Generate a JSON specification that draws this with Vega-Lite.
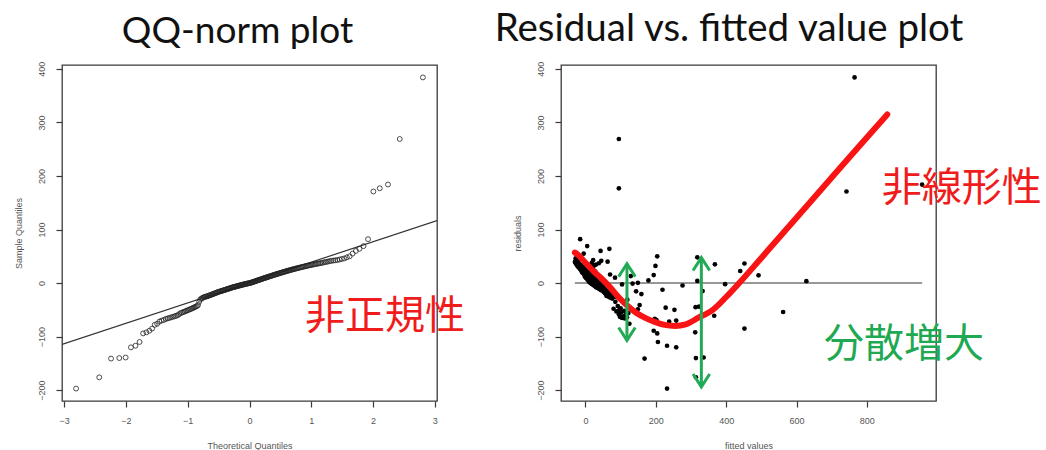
{
 "$schema": "https://vega.github.io/schema/vega-lite/v6.json",
 "background": "white",
 "padding": {"left": 13, "top": 9, "right": 0, "bottom": 0},
 "spacing": 124,
 "bounds": "flush",
 "datasets": {
  "res": [
   {"tq":-2.807,"r":-197,"f":232},{"tq":-2.432,"r":-176,"f":314},{"tq":-2.241,"r":-141,"f":168},{"tq":-2.108,"r":-140,"f":314},{"tq":-2.005,"r":-139,"f":336},
   {"tq":-1.919,"r":-120,"f":258},{"tq":-1.846,"r":-117,"f":232},{"tq":-1.78,"r":-110,"f":206},{"tq":-1.722,"r":-94,"f":204},{"tq":-1.669,"r":-92,"f":312},
   {"tq":-1.621,"r":-89,"f":194},{"tq":-1.576,"r":-85,"f":452},{"tq":-1.534,"r":-78,"f":278},{"tq":-1.495,"r":-76,"f":125},{"tq":-1.458,"r":-72,"f":238},
   {"tq":-1.422,"r":-70,"f":258},{"tq":-1.388,"r":-69,"f":202},{"tq":-1.356,"r":-67,"f":197},{"tq":-1.325,"r":-66,"f":112},{"tq":-1.296,"r":-65,"f":104},
   {"tq":-1.267,"r":-64,"f":118},{"tq":-1.24,"r":-63,"f":98},{"tq":-1.213,"r":-62,"f":108},{"tq":-1.187,"r":-61,"f":366},{"tq":-1.162,"r":-60,"f":115},
   {"tq":-1.138,"r":-58,"f":95},{"tq":-1.114,"r":-56,"f":122},{"tq":-1.091,"r":-55,"f":102},{"tq":-1.069,"r":-54,"f":562},{"tq":-1.047,"r":-53,"f":88},
   {"tq":-1.026,"r":-52,"f":110},{"tq":-1.005,"r":-51,"f":96},{"tq":-0.984,"r":-50,"f":253},{"tq":-0.964,"r":-49,"f":149},{"tq":-0.944,"r":-48,"f":80},
   {"tq":-0.925,"r":-47,"f":100},{"tq":-0.906,"r":-46,"f":228},{"tq":-0.887,"r":-45,"f":313},{"tq":-0.869,"r":-44,"f":323},{"tq":-0.851,"r":-43,"f":92},
   {"tq":-0.833,"r":-41,"f":154},{"tq":-0.815,"r":-35,"f":85},{"tq":-0.798,"r":-31,"f":119},{"tq":-0.781,"r":-29,"f":76},{"tq":-0.764,"r":-28,"f":94},
   {"tq":-0.747,"r":-27,"f":70},{"tq":-0.731,"r":-26,"f":82},{"tq":-0.714,"r":-25.5,"f":66},{"tq":-0.698,"r":-25,"f":90},{"tq":-0.682,"r":-24.5,"f":72},
   {"tq":-0.667,"r":-24,"f":60},{"tq":-0.651,"r":-23,"f":78},{"tq":-0.636,"r":-22.5,"f":64},{"tq":-0.62,"r":-22,"f":86},{"tq":-0.605,"r":-21,"f":58},
   {"tq":-0.59,"r":-20.5,"f":159},{"tq":-0.576,"r":-20,"f":68},{"tq":-0.561,"r":-19,"f":74},{"tq":-0.546,"r":-18.5,"f":55},{"tq":-0.532,"r":-18,"f":62},
   {"tq":-0.518,"r":-17,"f":80},{"tq":-0.503,"r":-16.5,"f":52},{"tq":-0.489,"r":-16,"f":70},{"tq":-0.475,"r":-15.5,"f":144},{"tq":-0.461,"r":-15,"f":333},
   {"tq":-0.447,"r":-14.5,"f":58},{"tq":-0.433,"r":-14,"f":48},{"tq":-0.42,"r":-13.5,"f":66},{"tq":-0.406,"r":-13,"f":44},{"tq":-0.393,"r":-12.5,"f":219},
   {"tq":-0.379,"r":-12,"f":60},{"tq":-0.366,"r":-11.5,"f":40},{"tq":-0.352,"r":-11,"f":54},{"tq":-0.339,"r":-10.5,"f":72},{"tq":-0.326,"r":-10,"f":46},
   {"tq":-0.312,"r":-9.5,"f":36},{"tq":-0.299,"r":-9,"f":62},{"tq":-0.286,"r":-8.5,"f":50},{"tq":-0.273,"r":-8,"f":30},{"tq":-0.26,"r":-7.5,"f":56},
   {"tq":-0.247,"r":-7,"f":42},{"tq":-0.234,"r":-6.8,"f":64},{"tq":-0.221,"r":-6.5,"f":34},{"tq":-0.208,"r":-6,"f":48},{"tq":-0.196,"r":-5.5,"f":26},
   {"tq":-0.183,"r":-5,"f":52},{"tq":-0.17,"r":-4.8,"f":38},{"tq":-0.157,"r":-4.5,"f":276},{"tq":-0.145,"r":-4,"f":44},{"tq":-0.132,"r":-3.5,"f":22},
   {"tq":-0.119,"r":-3.2,"f":58},{"tq":-0.107,"r":-3,"f":32},{"tq":-0.094,"r":-2.5,"f":104},{"tq":-0.082,"r":-2,"f":397},{"tq":-0.069,"r":-1.8,"f":40},
   {"tq":-0.056,"r":-1.5,"f":18},{"tq":-0.044,"r":-1,"f":134},{"tq":-0.031,"r":-0.8,"f":46},{"tq":-0.019,"r":-0.5,"f":28},{"tq":-0.006,"r":-0.2,"f":36},
   {"tq":0.006,"r":0,"f":14},{"tq":0.019,"r":0.5,"f":149},{"tq":0.031,"r":1,"f":40},{"tq":0.044,"r":1.5,"f":24},{"tq":0.056,"r":2,"f":32},
   {"tq":0.069,"r":2.5,"f":10},{"tq":0.082,"r":3,"f":44},{"tq":0.094,"r":3.5,"f":628},{"tq":0.107,"r":4,"f":318},{"tq":0.119,"r":4.5,"f":28},
   {"tq":0.132,"r":5,"f":179},{"tq":0.145,"r":5.5,"f":36},{"tq":0.157,"r":6,"f":6},{"tq":0.17,"r":6.5,"f":24},{"tq":0.183,"r":7,"f":16},
   {"tq":0.196,"r":7.5,"f":40},{"tq":0.208,"r":8,"f":12},{"tq":0.221,"r":8.5,"f":30},{"tq":0.234,"r":9,"f":2},{"tq":0.247,"r":9.5,"f":20},
   {"tq":0.26,"r":10,"f":84},{"tq":0.273,"r":10.5,"f":26},{"tq":0.286,"r":11,"f":8},{"tq":0.299,"r":11.5,"f":34},{"tq":0.312,"r":12,"f":14},
   {"tq":0.326,"r":12.5,"f":-2},{"tq":0.339,"r":13,"f":129},{"tq":0.352,"r":13.5,"f":22},{"tq":0.366,"r":14,"f":4},{"tq":0.379,"r":14.5,"f":492},
   {"tq":0.393,"r":15,"f":194},{"tq":0.406,"r":15.5,"f":18},{"tq":0.42,"r":16,"f":70},{"tq":0.433,"r":16.5,"f":-4},{"tq":0.447,"r":17,"f":10},
   {"tq":0.461,"r":17.5,"f":26},{"tq":0.475,"r":18,"f":0},{"tq":0.489,"r":18.5,"f":14},{"tq":0.503,"r":19,"f":-8},{"tq":0.518,"r":19.5,"f":20},
   {"tq":0.532,"r":20,"f":6},{"tq":0.546,"r":20.5,"f":-10},{"tq":0.561,"r":21,"f":12},{"tq":0.576,"r":21.5,"f":28},{"tq":0.59,"r":22,"f":-6},
   {"tq":0.605,"r":22.5,"f":440},{"tq":0.62,"r":23,"f":4},{"tq":0.636,"r":23.5,"f":-12},{"tq":0.651,"r":24,"f":16},{"tq":0.667,"r":24.5,"f":-2},
   {"tq":0.682,"r":25,"f":8},{"tq":0.698,"r":25.5,"f":-14},{"tq":0.714,"r":26,"f":22},{"tq":0.731,"r":26.5,"f":2},{"tq":0.747,"r":27,"f":-16},
   {"tq":0.764,"r":27.5,"f":10},{"tq":0.781,"r":28,"f":-8},{"tq":0.798,"r":28.5,"f":-18},{"tq":0.815,"r":29,"f":0},{"tq":0.833,"r":29.5,"f":14},
   {"tq":0.851,"r":30,"f":-20},{"tq":0.869,"r":30.5,"f":-4},{"tq":0.887,"r":31,"f":6},{"tq":0.906,"r":31.5,"f":-22},{"tq":0.925,"r":32,"f":199},
   {"tq":0.944,"r":32.5,"f":-10},{"tq":0.964,"r":33,"f":25},{"tq":0.984,"r":33.5,"f":-24},{"tq":1.005,"r":34,"f":-14},{"tq":1.026,"r":34.5,"f":30},
   {"tq":1.047,"r":35,"f":368},{"tq":1.069,"r":35.5,"f":-26},{"tq":1.091,"r":36,"f":-18},{"tq":1.114,"r":36.5,"f":452},{"tq":1.138,"r":37,"f":38},
   {"tq":1.162,"r":37.5,"f":-28},{"tq":1.187,"r":38,"f":18},{"tq":1.213,"r":39,"f":-20},{"tq":1.24,"r":39.5,"f":-30},{"tq":1.267,"r":40,"f":63},
   {"tq":1.296,"r":41,"f":-24},{"tq":1.325,"r":41.5,"f":45},{"tq":1.356,"r":42,"f":-27},{"tq":1.388,"r":42.5,"f":-22},{"tq":1.422,"r":43,"f":22},
   {"tq":1.458,"r":44,"f":-25},{"tq":1.495,"r":45,"f":-18},{"tq":1.534,"r":46,"f":-28},{"tq":1.576,"r":48,"f":318},{"tq":1.621,"r":50,"f":204},
   {"tq":1.669,"r":55,"f":-5},{"tq":1.722,"r":60,"f":43},{"tq":1.78,"r":64,"f":68},{"tq":1.846,"r":69,"f":5},{"tq":1.919,"r":82,"f":-15},
   {"tq":2.005,"r":171,"f":742},{"tq":2.108,"r":177,"f":95},{"tq":2.241,"r":184,"f":957},{"tq":2.432,"r":269,"f":95},{"tq":2.807,"r":384,"f":765}
  ],
  "qqline": [{"tq":-3.035,"r":-114.6},{"tq":3.035,"r":116.6}],
  "curve": [
   {"f":-30,"r":57},{"f":-20,"r":52},{"f":0,"r":38},{"f":20,"r":24},{"f":45,"r":9},{"f":70,"r":-8},{"f":95,"r":-27},{"f":120,"r":-43},
   {"f":145,"r":-56},{"f":170,"r":-65},{"f":195,"r":-72},{"f":225,"r":-78},{"f":255,"r":-80},{"f":285,"r":-77},{"f":310,"r":-69},
   {"f":322,"r":-64},{"f":332,"r":-61},{"f":342,"r":-58},{"f":360,"r":-51},{"f":400,"r":-26},{"f":437,"r":0},{"f":500,"r":47},
   {"f":600,"r":122},{"f":700,"r":197},{"f":800,"r":272},{"f":858,"r":315}
  ],
  "zero": [{"f":-30,"f2":957,"r":0}],
  "arrows": [{"f":118,"top":36,"bottom":-107},{"f":329.5,"top":47.5,"bottom":-193.8}],
  "heads": [{"f":118,"r":36,"dir":"up"},{"f":118,"r":-107,"dir":"down"},{"f":329.5,"r":47.5,"dir":"up"},{"f":329.5,"r":-193.8,"dir":"down"}],
  "notesL": [{"tq":0.9,"r":-64,"label":"非正規性"}],
  "notesR": [{"f":842,"r":176,"label":"非線形性"},{"f":678,"r":-116,"label":"分散増大"}]
 },
 "hconcat": [
  {
   "width": 375,
   "height": 336,
   "title": {"text": "QQ-norm plot", "font": "Lato", "fontSize": 37, "fontWeight": "normal", "color": "#111111", "frame": "group", "anchor": "middle", "baseline": "alphabetic", "offset": -18.5, "dx": -12},
   "layer": [
    {
     "data": {"name": "qqline"},
     "mark": {"type": "line", "color": "#333333", "strokeWidth": 1.2, "clip": true},
     "encoding": {
      "x": {"field": "tq", "type": "quantitative", "scale": {"domain": [-3.035, 3.035], "nice": false, "zero": false},
            "axis": {"values": [-3,-2,-1,0,1,2,3], "format": "d", "title": "Theoretical Quantiles"}},
      "y": {"field": "r", "type": "quantitative", "scale": {"domain": [-220.2, 407.2], "nice": false, "zero": false},
            "axis": {"values": [-200,-100,0,100,200,300,400], "title": "Sample Quantiles"}}
     }
    },
    {
     "data": {"name": "res"},
     "mark": {"type": "point", "filled": false, "color": "#222222", "size": 24, "strokeWidth": 0.8, "opacity": 1},
     "encoding": {
      "x": {"field": "tq", "type": "quantitative"},
      "y": {"field": "r", "type": "quantitative"}
     }
    },
    {
     "data": {"name": "notesL"},
     "mark": {"type": "text", "font": "Noto Sans CJK JP", "fontSize": 40, "align": "left", "baseline": "middle", "color": "#f01c1c"},
     "encoding": {
      "x": {"field": "tq", "type": "quantitative"},
      "y": {"field": "r", "type": "quantitative"},
      "text": {"field": "label"}
     }
    }
   ]
  },
  {
   "width": 375,
   "height": 336,
   "title": {"text": "Residual vs. fitted value plot", "font": "Lato", "fontSize": 38.5, "fontWeight": "normal", "color": "#111111", "frame": "group", "anchor": "middle", "baseline": "alphabetic", "offset": -18.5, "dx": -19.5},
   "layer": [
    {
     "data": {"name": "zero"},
     "mark": {"type": "rule", "color": "#333333", "strokeWidth": 1.1},
     "encoding": {
      "x": {"field": "f", "type": "quantitative", "scale": {"domain": [-69.5, 996.5], "nice": false, "zero": false},
            "axis": {"values": [0,200,400,600,800], "title": "fitted values"}},
      "x2": {"field": "f2"},
      "y": {"field": "r", "type": "quantitative", "scale": {"domain": [-220.2, 407.2], "nice": false, "zero": false},
            "axis": {"values": [-200,-100,0,100,200,300,400], "title": "residuals"}}
     }
    },
    {
     "data": {"name": "res"},
     "mark": {"type": "circle", "color": "#000000", "size": 22, "opacity": 1},
     "encoding": {
      "x": {"field": "f", "type": "quantitative"},
      "y": {"field": "r", "type": "quantitative"}
     }
    },
    {
     "data": {"name": "curve"},
     "mark": {"type": "line", "color": "#f81414", "strokeWidth": 6, "interpolate": "monotone", "strokeCap": "round"},
     "encoding": {
      "x": {"field": "f", "type": "quantitative"},
      "y": {"field": "r", "type": "quantitative"}
     }
    },
    {
     "data": {"name": "arrows"},
     "mark": {"type": "rule", "color": "#22aa55", "strokeWidth": 3},
     "encoding": {
      "x": {"field": "f", "type": "quantitative"},
      "y": {"field": "top", "type": "quantitative"},
      "y2": {"field": "bottom"}
     }
    },
    {
     "data": {"name": "heads"},
     "mark": {"type": "point", "filled": false, "color": "#22aa55", "strokeWidth": 3, "size": 276, "opacity": 1, "strokeJoin": "miter"},
     "encoding": {
      "x": {"field": "f", "type": "quantitative"},
      "y": {"field": "r", "type": "quantitative"},
      "shape": {"field": "dir", "type": "nominal", "legend": null,
                "scale": {"domain": ["up", "down"], "range": ["M-1,1.55L0,0L1,1.55", "M-1,-1.55L0,0L1,-1.55"]}}
     }
    },
    {
     "data": {"name": "notesR"},
     "mark": {"type": "text", "font": "Noto Sans CJK JP", "fontSize": 40, "align": "left", "baseline": "middle"},
     "encoding": {
      "x": {"field": "f", "type": "quantitative"},
      "y": {"field": "r", "type": "quantitative"},
      "text": {"field": "label"},
      "color": {"field": "label", "type": "nominal", "legend": null,
                "scale": {"domain": ["非線形性", "分散増大"], "range": ["#f01c1c", "#1fa952"]}}
     }
    }
   ]
  }
 ],
 "config": {
  "view": {"stroke": "#3a3a3a", "strokeWidth": 1.3},
  "axis": {"domain": false, "grid": false, "ticks": true, "tickSize": 6, "tickColor": "#3a3a3a", "tickWidth": 1.2,
           "labelFont": "Liberation Sans", "labelFontSize": 9, "labelColor": "#555555", "labelFlush": false, "labelOverlap": false,
           "titleFont": "Liberation Sans", "titleFontSize": 9, "titleFontWeight": "normal", "titleColor": "#555555"},
  "axisY": {"labelAngle": 270, "labelAlign": "center", "labelBaseline": "bottom", "labelPadding": 10, "titlePadding": 14},
  "axisX": {"labelPadding": 9, "titlePadding": 16}
 }
}
